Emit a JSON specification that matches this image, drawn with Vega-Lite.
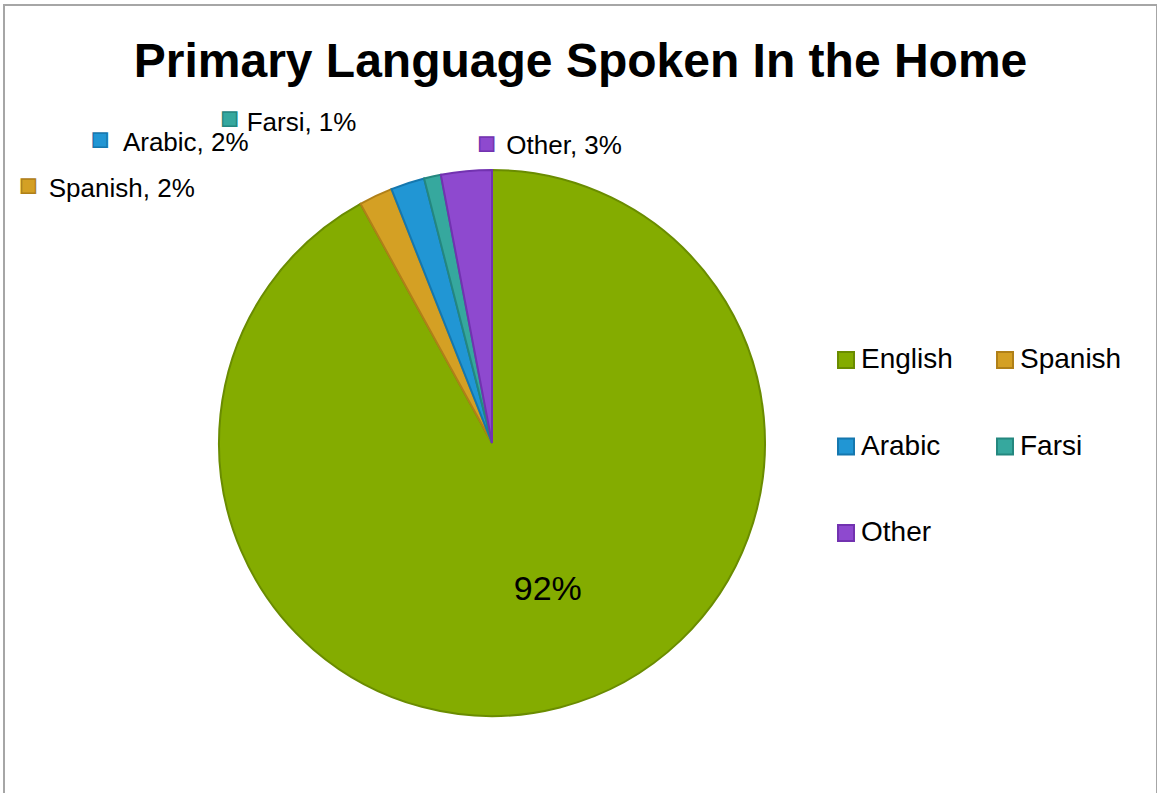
{
  "$schema": "https://vega.github.io/schema/vega-lite/v6.json",
  "width": 1153,
  "height": 800,
  "autosize": {"type": "none"},
  "padding": {"left": 4, "top": 5, "right": 0, "bottom": 0},
  "background": "white",
  "view": {"stroke": "#a6a6a6", "strokeWidth": 2, "fill": "white"},
  "config": {"font": "Liberation Sans", "view": {"stroke": "#a6a6a6", "strokeWidth": 2}},
  "title": {"text": "Primary Language Spoken In the Home", "fontSize": 48, "fontWeight": "bold", "font": "Liberation Sans", "color": "black", "anchor": "middle", "frame": "group", "orient": "top", "offset": -120, "baseline": "alphabetic"},
  "data": {"values": [
    {"lang": "English", "value": 92, "rank": 1, "label": "92%"},
    {"lang": "Spanish", "value": 2, "rank": 2, "label": "Spanish, 2%"},
    {"lang": "Arabic", "value": 2, "rank": 3, "label": "Arabic, 2%"},
    {"lang": "Farsi", "value": 1, "rank": 4, "label": "Farsi, 1%"},
    {"lang": "Other", "value": 3, "rank": 5, "label": "Other, 3%"}
  ]},
  "encoding": {
    "theta": {"field": "value", "type": "quantitative", "stack": true},
    "order": {"field": "rank", "type": "quantitative"}
  },
  "layer": [
    {
      "mark": {"type": "arc", "x": 488, "y": 438, "outerRadius": 273, "strokeWidth": 2},
      "encoding": {
        "color": {"field": "lang", "type": "nominal",
          "scale": {"domain": ["English", "Arabic", "Other", "Spanish", "Farsi"], "range": ["#84ac00", "#2196d4", "#8e49cf", "#d4a024", "#36a89e"]},
          "legend": {"orient": "none", "legendX": 828, "legendY": 341, "columns": 2, "title": null, "symbolType": "square", "symbolSize": 256, "symbolStrokeWidth": 2, "labelFontSize": 28, "labelFont": "Liberation Sans", "labelColor": "black", "rowPadding": 58.5, "columnPadding": 38, "labelOffset": 1}},
        "stroke": {"field": "lang", "type": "nominal",
          "scale": {"domain": ["English", "Arabic", "Other", "Spanish", "Farsi"], "range": ["#6a8c00", "#1577ae", "#7232b0", "#b08018", "#24877f"]},
          "legend": {"orient": "none", "legendX": 828, "legendY": 341, "columns": 2, "title": null, "symbolType": "square", "symbolSize": 256, "symbolStrokeWidth": 2, "labelFontSize": 28, "labelFont": "Liberation Sans", "labelColor": "black", "rowPadding": 58.5, "columnPadding": 38, "labelOffset": 1}}
      }
    },
    {
      "mark": {"type": "text", "x": 488, "y": 438, "radius": 152, "align": "center", "baseline": "middle", "fontSize": 34, "dx": 18, "dy": 0, "color": "black"},
      "encoding": {"detail": {"field": "lang"}, "text": {"condition": {"test": "datum.lang === 'English'", "field": "label"}, "value": ""}}
    },
    {
      "mark": {"type": "text", "x": 488, "y": 438, "radius": 273, "align": "right", "baseline": "alphabetic", "fontSize": 26, "dx": -181, "dy": 1, "color": "black"},
      "encoding": {"detail": {"field": "lang"}, "text": {"condition": {"test": "datum.lang === 'Spanish'", "field": "label"}, "value": ""}}
    },
    {
      "mark": {"type": "text", "x": 488, "y": 438, "radius": 273, "align": "right", "baseline": "alphabetic", "fontSize": 26, "dx": -159, "dy": -32, "color": "black"},
      "encoding": {"detail": {"field": "lang"}, "text": {"condition": {"test": "datum.lang === 'Arabic'", "field": "label"}, "value": ""}}
    },
    {
      "mark": {"type": "text", "x": 488, "y": 438, "radius": 273, "align": "right", "baseline": "alphabetic", "fontSize": 26, "dx": -76, "dy": -46, "color": "black"},
      "encoding": {"detail": {"field": "lang"}, "text": {"condition": {"test": "datum.lang === 'Farsi'", "field": "label"}, "value": ""}}
    },
    {
      "mark": {"type": "text", "x": 488, "y": 438, "radius": 273, "align": "left", "baseline": "alphabetic", "fontSize": 26, "dx": 40, "dy": -17, "color": "black"},
      "encoding": {"detail": {"field": "lang"}, "text": {"condition": {"test": "datum.lang === 'Other'", "field": "label"}, "value": ""}}
    },
    {
      "mark": {"type": "text", "x": 488, "y": 438, "radius": 273, "align": "center", "baseline": "middle", "fontSize": 29, "strokeWidth": 1.5, "dx": -347.5, "dy": -10},
      "encoding": {"color": {"field": "lang", "type": "nominal"}, "stroke": {"field": "lang", "type": "nominal"}, "text": {"condition": {"test": "datum.lang === 'Spanish'", "value": "■"}, "value": ""}}
    },
    {
      "mark": {"type": "text", "x": 488, "y": 438, "radius": 273, "align": "center", "baseline": "middle", "fontSize": 29, "strokeWidth": 1.5, "dx": -307.6, "dy": -43.4},
      "encoding": {"color": {"field": "lang", "type": "nominal"}, "stroke": {"field": "lang", "type": "nominal"}, "text": {"condition": {"test": "datum.lang === 'Arabic'", "value": "■"}, "value": ""}}
    },
    {
      "mark": {"type": "text", "x": 488, "y": 438, "radius": 273, "align": "center", "baseline": "middle", "fontSize": 29, "strokeWidth": 1.5, "dx": -202.9, "dy": -57.1},
      "encoding": {"color": {"field": "lang", "type": "nominal"}, "stroke": {"field": "lang", "type": "nominal"}, "text": {"condition": {"test": "datum.lang === 'Farsi'", "value": "■"}, "value": ""}}
    },
    {
      "mark": {"type": "text", "x": 488, "y": 438, "radius": 273, "align": "center", "baseline": "middle", "fontSize": 29, "strokeWidth": 1.5, "dx": 20.2, "dy": -27.7},
      "encoding": {"color": {"field": "lang", "type": "nominal"}, "stroke": {"field": "lang", "type": "nominal"}, "text": {"condition": {"test": "datum.lang === 'Other'", "value": "■"}, "value": ""}}
    }
  ]
}
